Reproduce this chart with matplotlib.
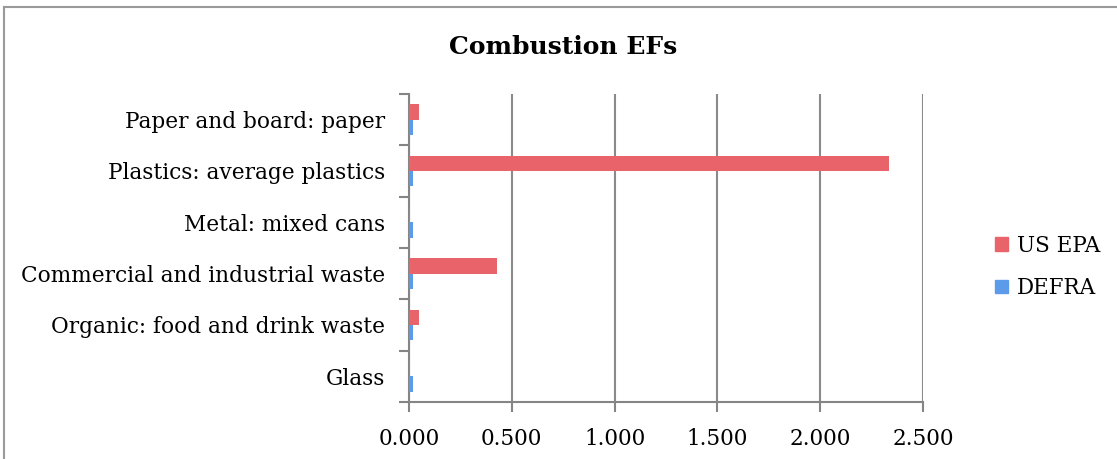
import numpy as np
import matplotlib
matplotlib.use("Agg")
import matplotlib.pyplot as plt
from matplotlib.lines import Line2D
import matplotlib.patches as mpatches

# data (bottom to top)
categories = ["Glass", "Organic: food and drink waste", "Commercial and industrial waste",
              "Metal: mixed cans", "Plastics: average plastics", "Paper and board: paper"]
us_epa = [0.005, 0.05, 0.43, 0.005, 2.335, 0.05]
defra = [0.021, 0.021, 0.021, 0.021, 0.021, 0.021]
xticks = [0.0, 0.5, 1.0, 1.5, 2.0, 2.5]

red = "#E8646A"
blue = "#5C9BEA"
font = "DejaVu Serif"

fig = plt.figure(figsize=(11.17, 4.59), dpi=100)
ax = fig.add_axes([409 / 1117, 1 - 402 / 459, 514 / 1117, 308 / 459])

y = np.arange(len(categories))
h = 0.3
ax.barh(y + h / 2, us_epa, height=h, color=red, zorder=3)
ax.barh(y - h / 2, defra, height=h, color=blue, zorder=3)

ax.set_xlim(0, 2.5)
ax.set_ylim(-0.5, len(categories) - 0.5)
ax.set_xticks(xticks)
ax.set_xticklabels([f"{v:.3f}" for v in xticks], fontsize=15.5, fontfamily=font)
ax.set_yticks(y)
ax.set_yticklabels(categories, fontsize=15.6, fontfamily=font)
ax.tick_params(axis="y", length=0, pad=17)
ax.tick_params(axis="x", length=7, width=1.5, color="#858585", pad=12)

# category boundary ticks on the y axis
ax.set_yticks(np.arange(-0.5, len(categories)), minor=True)
ax.tick_params(axis="y", which="minor", length=7, width=1.5, color="#858585")

ax.grid(axis="x", color="#8a8a8a", linewidth=1.5, zorder=0)
for s in ["top", "right"]:
    ax.spines[s].set_visible(False)
for s in ["left", "bottom"]:
    ax.spines[s].set_color("#858585")
    ax.spines[s].set_linewidth(1.5)

fig.text(563 / 1117, 1 - 47 / 459, "Combustion EFs", fontsize=18, fontweight="bold",
         fontfamily=font, ha="center", va="center")

handles = [mpatches.Patch(color=red, label="US EPA"), mpatches.Patch(color=blue, label="DEFRA")]
fig.legend(handles=handles, loc="center left", bbox_to_anchor=(995 / 1117, 1 - 267 / 459),
           frameon=False, prop={"family": font, "size": 15.5}, handlelength=0.6, handleheight=0.6,
           handletextpad=0.4, labelspacing=0.95, borderpad=0, borderaxespad=0)

# outer frame
fig.add_artist(Line2D([4 / 1117, 4 / 1117], [0, 1 - 7 / 459], color="#9a9a9a", linewidth=1.5))
fig.add_artist(Line2D([4 / 1117, 1], [1 - 7 / 459, 1 - 7 / 459], color="#9a9a9a", linewidth=1.5))

fig.savefig("out.png", dpi=100)
